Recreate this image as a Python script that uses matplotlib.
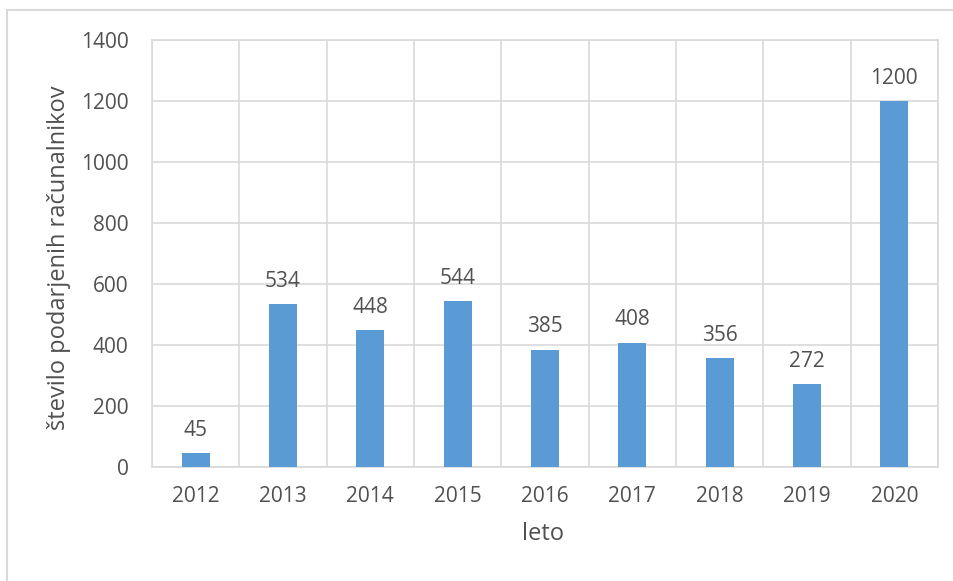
import matplotlib.pyplot as plt
import matplotlib.patches as patches
import numpy as np

# data
years = ['2012', '2013', '2014', '2015', '2016', '2017', '2018', '2019', '2020']
computers = [45, 534, 448, 544, 385, 408, 356, 272, 1200]

plt.rcParams['font.family'] = ['Open Sans', 'DejaVu Sans']
text_color = '#505050'
grid_color = '#D9D9D9'
bar_color = '#5B9BD5'

W, H = 954, 581
fig = plt.figure(figsize=(9.54, 5.81), dpi=100)
ax = fig.add_axes([152/W, 1 - 467/H, (938 - 152)/W, (467 - 40)/H])

x = np.arange(len(years))
bars = ax.bar(x, computers, width=0.32, color=bar_color, zorder=3)

# data labels
for bar, val in zip(bars, computers):
    ax.annotate(str(val), (bar.get_x() + bar.get_width()/2, bar.get_height()),
                xytext=(0, 9), textcoords='offset points',
                ha='center', va='bottom', fontsize=15, color=text_color)

ax.set_xlim(-0.5, len(years) - 0.5)
ax.set_ylim(0, 1400)
ax.set_yticks(np.arange(0, 1401, 200))
ax.set_xticks(x)
ax.set_xticklabels(years)
ax.set_xticks(np.arange(-0.5, len(years)), minor=True)

ax.grid(axis='y', which='major', color=grid_color, linewidth=1.2, zorder=0)
ax.grid(axis='x', which='minor', color=grid_color, linewidth=1.2, zorder=0)
ax.grid(axis='x', which='major', visible=False)

for s in ax.spines.values():
    s.set_color(grid_color)
    s.set_linewidth(1.2)

ax.tick_params(which='both', length=0)
ax.tick_params(axis='y', pad=17, labelsize=15, labelcolor=text_color)
ax.tick_params(axis='x', pad=14, labelsize=15, labelcolor=text_color)

# axis titles
fig.text(543/W, 1 - 534/H, 'leto', fontsize=17, color=text_color,
         ha='center', va='center')
fig.text(59/W, 1 - 258/H, 'število podarjenih računalnikov', fontsize=17,
         color=text_color, rotation=90, ha='center', va='center')

# outer chart border
fig.patches.append(patches.Rectangle((7/W, -0.05), 1.0, 1 - 10/H + 0.05,
                                     transform=fig.transFigure, fill=False,
                                     edgecolor=grid_color, linewidth=1.5))

plt.savefig('out.png', dpi=100)
